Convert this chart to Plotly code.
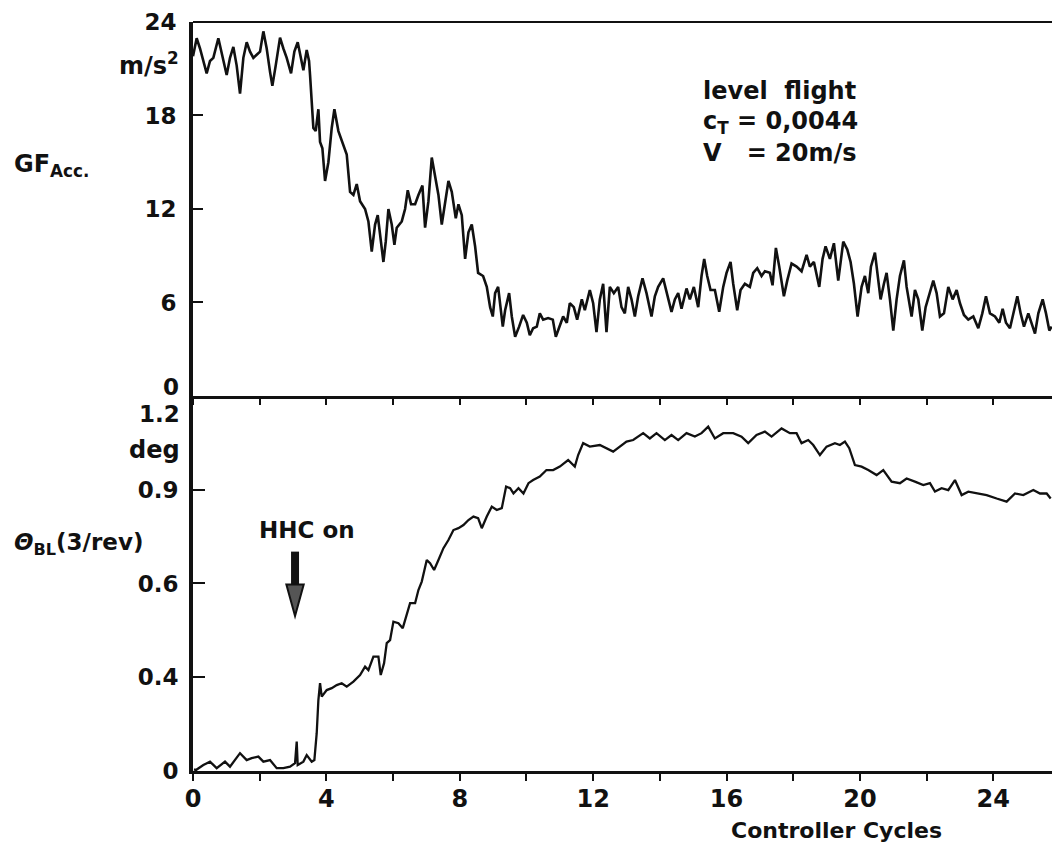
import plotly.graph_objects as go

# ---------------- data ----------------
# Upper panel: GF_Acc. [m/s^2] versus controller cycles
gf_x_a = [0.0, 0.11, 0.21, 0.41, 0.51, 0.61, 0.76, 0.91, 1.01, 1.11, 1.21, 1.31, 1.41, 1.51, 1.61, 1.71,
          1.81, 1.91, 2.01, 2.11, 2.21, 2.31, 2.38, 2.48, 2.61, 2.71, 2.81, 2.94, 3.04, 3.14, 3.24, 3.31,
          3.41, 3.48, 3.51, 3.56, 3.61, 3.68, 3.76, 3.81, 3.88, 3.96, 4.06, 4.16, 4.24, 4.36, 4.51, 4.61,
          4.71, 4.81, 4.91, 5.01, 5.16, 5.26, 5.36, 5.46, 5.54, 5.61, 5.71, 5.78, 5.86, 5.96, 6.04, 6.11,
          6.26, 6.36, 6.44, 6.54, 6.66, 6.76, 6.88, 6.96, 7.06, 7.16, 7.26, 7.36, 7.46, 7.56, 7.66, 7.76,
          7.88, 7.96, 8.06, 8.16, 8.26]
gf_y_a = [21.8, 22.96, 22.3, 20.7, 21.5, 21.7, 22.96, 21.5, 20.6, 21.7, 22.4, 21.2, 19.4, 21.7, 22.7, 22.1,
          21.7, 21.9, 22.1, 23.4, 22.3, 20.8, 19.9, 21.2, 23.0, 22.3, 21.7, 20.7, 22.1, 22.7, 21.7, 20.9,
          22.2, 21.5, 20.6, 18.9, 17.2, 17.0, 18.4, 16.3, 15.9, 13.8, 15.0, 17.2, 18.4, 17.0, 16.1, 15.5,
          13.1, 12.9, 13.6, 12.5, 12.0, 11.2, 9.26, 11.0, 11.6, 10.3, 8.6, 9.9, 12.0, 11.0, 9.7, 10.8,
          11.2, 12.0, 13.2, 12.3, 12.3, 12.9, 13.5, 10.8, 12.5, 15.3, 14.0, 12.9, 11.0, 12.5, 13.8, 13.1,
          11.4, 12.3, 11.6, 8.8, 10.5]
gf_x_b = [8.36, 8.46, 8.55, 8.70, 8.81, 8.91, 8.99, 9.06, 9.15, 9.29, 9.36, 9.48, 9.56, 9.66, 9.78, 9.90,
          10.01, 10.10, 10.20, 10.31, 10.40, 10.50, 10.65, 10.79, 10.88, 10.98, 11.10, 11.21, 11.30, 11.42,
          11.52, 11.66, 11.75, 11.90, 12.00, 12.10, 12.20, 12.30, 12.40, 12.50, 12.62, 12.75, 12.85, 12.95,
          13.05, 13.15, 13.25, 13.35, 13.48, 13.60, 13.75, 13.85, 13.95, 14.10, 14.22, 14.35, 14.45, 14.55,
          14.65, 14.80, 14.90, 15.02, 15.15, 15.25, 15.33, 15.42, 15.52, 15.65, 15.78, 15.90, 16.00, 16.12,
          16.20, 16.32, 16.42, 16.55, 16.70, 16.80, 16.92, 17.05]
gf_y_b = [11.0, 9.6, 7.9, 7.7, 7.0, 5.7, 5.1, 6.6, 7.0, 4.45, 5.5, 6.6, 5.1, 3.8, 4.45, 5.2,
          4.7, 3.9, 4.35, 4.45, 5.3, 4.9, 5.0, 4.9, 3.8, 4.45, 5.1, 4.7, 5.95, 5.7,
          4.9, 6.2, 5.5, 6.8, 5.95, 4.1, 6.2, 7.2, 4.1, 7.0, 6.6, 7.0, 5.7, 5.3,
          7.0, 6.2, 5.1, 6.4, 7.55, 6.6, 5.1, 6.4, 7.0, 7.55, 6.6, 5.4, 6.2, 6.6,
          5.6, 6.9, 6.2, 7.0, 5.7, 7.7, 8.8, 7.7, 6.8, 6.8, 5.4, 7.0, 7.9, 8.6,
          7.2, 5.5, 6.8, 7.2, 7.0, 7.9, 8.2, 7.7]
gf_x_c = [17.15, 17.30, 17.38, 17.48, 17.58, 17.72, 17.82, 17.95, 18.10, 18.25, 18.40, 18.50, 18.62,
          18.78, 18.88, 18.97, 19.10, 19.22, 19.35, 19.50, 19.62, 19.72, 19.82, 19.93, 20.05, 20.15,
          20.25, 20.33, 20.45, 20.55, 20.62, 20.72, 20.80, 20.90, 21.00, 21.10, 21.20, 21.32, 21.40,
          21.55, 21.65, 21.75, 21.87, 21.97, 22.10, 22.20, 22.30, 22.40, 22.52, 22.65, 22.78, 22.90,
          23.00, 23.12, 23.25, 23.40, 23.55, 23.67, 23.78, 23.90, 24.05, 24.18, 24.28, 24.38, 24.50,
          24.60, 24.72, 24.82, 24.92, 25.05, 25.15, 25.25, 25.35, 25.48, 25.58, 25.68, 25.75]
gf_y_c = [8.0, 7.9, 7.1, 9.5, 8.3, 6.4, 7.4, 8.5, 8.3, 8.0, 9.05, 8.3, 8.6,
          7.0, 8.8, 9.6, 8.8, 9.8, 7.4, 9.9, 9.4, 8.6, 7.2, 5.1, 7.0, 7.7,
          6.6, 8.3, 9.2, 7.4, 6.2, 7.2, 7.9, 6.2, 4.2, 6.2, 7.7, 8.7, 7.0,
          5.1, 6.8, 6.2, 4.2, 5.7, 6.6, 7.4, 6.6, 5.1, 5.3, 7.0, 6.2, 6.8,
          5.95, 5.2, 4.9, 5.1, 4.35, 5.3, 6.4, 5.3, 5.1, 4.7, 5.6, 4.7, 4.35,
          5.3, 6.4, 5.3, 4.45, 5.3, 4.7, 4.0, 5.3, 6.2, 5.3, 4.2, 4.45]

# Lower panel: Theta_BL (3/rev) [deg], in the (linear) units of the printed axis
th_x = [0.03, 0.09, 0.31, 0.51, 0.71, 0.96, 1.11, 1.41, 1.61, 1.76, 1.96, 2.11, 2.31, 2.51, 2.71, 2.91,
        3.06, 3.11, 3.14, 3.31, 3.41, 3.56, 3.64, 3.71, 3.76, 3.81, 3.86, 4.01, 4.16, 4.31, 4.46, 4.61,
        4.81, 5.01, 5.16, 5.26, 5.41, 5.56, 5.63, 5.73, 5.81, 5.91, 6.01, 6.16, 6.29, 6.41, 6.51, 6.66,
        6.76, 6.86, 7.01, 7.11, 7.23, 7.36, 7.51, 7.66, 7.81, 7.96, 8.11, 8.26, 8.41, 8.55, 8.66, 8.81,
        8.96, 9.11, 9.26, 9.39, 9.51, 9.61, 9.76, 9.91, 10.06, 10.2, 10.4, 10.6, 10.8, 11.0, 11.25, 11.45,
        11.55, 11.7, 11.9, 12.2, 12.4, 12.6, 13.0, 13.2, 13.5, 13.7, 13.9, 14.15, 14.35, 14.55, 14.8,
        15.05, 15.25, 15.45, 15.65, 15.9, 16.2, 16.45, 16.65, 16.9, 17.15, 17.35, 17.65, 17.9, 18.1,
        18.25, 18.45, 18.6, 18.8, 19.0, 19.25, 19.4, 19.55, 19.68, 19.85, 20.05, 20.25, 20.5, 20.7,
        20.95, 21.2, 21.4, 21.65, 21.9, 22.1, 22.25, 22.45, 22.65, 22.85, 23.05, 23.25, 23.5, 23.8,
        24.1, 24.4, 24.65, 24.9, 25.2, 25.4, 25.6, 25.72]
th_y = [0.005, 0.003, 0.019, 0.030, 0.009, 0.030, 0.014, 0.057, 0.035, 0.041, 0.046, 0.030, 0.035, 0.009,
        0.009, 0.014, 0.025, 0.094, 0.019, 0.030, 0.051, 0.030, 0.035, 0.121, 0.227, 0.281, 0.238, 0.259,
        0.265, 0.275, 0.281, 0.270, 0.286, 0.307, 0.334, 0.323, 0.366, 0.366, 0.307, 0.345, 0.409, 0.419,
        0.478, 0.473, 0.457, 0.505, 0.537, 0.537, 0.579, 0.606, 0.675, 0.665, 0.643, 0.675, 0.713, 0.739,
        0.771, 0.777, 0.787, 0.803, 0.814, 0.809, 0.777, 0.814, 0.846, 0.835, 0.841, 0.910, 0.905, 0.888,
        0.905, 0.888, 0.921, 0.931, 0.942, 0.963, 0.963, 0.974, 0.995, 0.974, 1.011, 1.049, 1.038, 1.043,
        1.033, 1.022, 1.054, 1.059, 1.081, 1.064, 1.081, 1.059, 1.075, 1.059, 1.081, 1.070, 1.081, 1.102,
        1.064, 1.081, 1.081, 1.070, 1.049, 1.075, 1.086, 1.070, 1.096, 1.081, 1.081, 1.049, 1.059, 1.043,
        1.011, 1.038, 1.049, 1.043, 1.054, 1.033, 0.979, 0.974, 0.963, 0.947, 0.963, 0.926, 0.921, 0.936,
        0.926, 0.915, 0.921, 0.894, 0.905, 0.899, 0.931, 0.883, 0.894, 0.888, 0.883, 0.872, 0.862, 0.888,
        0.883, 0.899, 0.888, 0.888, 0.872]

gf_x = gf_x_a + gf_x_b + gf_x_c
gf_y = gf_y_a + gf_y_b + gf_y_c
assert len(gf_x) == len(gf_y), (len(gf_x), len(gf_y))
assert len(th_x) == len(th_y), (len(th_x), len(th_y))

# axis ticks / labels
x_range = [0, 25.76]
x_tickvals = [0, 4, 8, 12, 16, 20, 24]
x_ticktext = ["0", "4", "8", "12", "16", "20", "24"]
x_minorvals = [2, 6, 10, 14, 18, 22]
gf_tickvals = [6, 12, 18, 24]
gf_ticktext = ["6", "12", "18", "24"]
th_tickvals = [0, 0.3, 0.6, 0.9]
th_ticktext = ["0", "0.4", "0.6", "0.9"]
hhc_on_cycle = 3.06

# ---------------- figure ----------------
FONT = "DejaVu Sans"
INK = "#111111"
split = 0.5007

def tfont(size):
    return dict(family=FONT, size=size, color=INK, weight="bold")

fig = go.Figure()
fig.add_trace(go.Scatter(x=gf_x, y=gf_y, mode="lines", xaxis="x2", yaxis="y2",
                         line=dict(color=INK, width=2.6), showlegend=False, hoverinfo="skip"))
fig.add_trace(go.Scatter(x=th_x, y=th_y, mode="lines", xaxis="x", yaxis="y",
                         line=dict(color=INK, width=2.3), showlegend=False, hoverinfo="skip"))

def xcommon(direction, length):
    return dict(range=x_range, tickvals=x_tickvals, showgrid=False, zeroline=False,
                tickcolor=INK, tickwidth=2, ticks=direction, ticklen=length,
                minor=dict(tickvals=x_minorvals, ticks=direction, ticklen=length,
                           tickwidth=2, tickcolor=INK, showgrid=False))

fig.update_layout(
    width=1052, height=847,
    margin=dict(l=193, r=0, t=22, b=76),
    paper_bgcolor="white", plot_bgcolor="white",
    xaxis=dict(**xcommon("outside", 7), anchor="y", domain=[0, 1], ticktext=x_ticktext,
               showline=True, linewidth=3, linecolor=INK, tickfont=tfont(24),
               ticklabelstandoff=-3),
    xaxis3=dict(**xcommon("inside", 7), anchor="y", overlaying="x",
                showticklabels=False, showline=False),
    xaxis2=dict(**xcommon("outside", 6), anchor="y2", domain=[0, 1],
                showticklabels=False, showline=True, linewidth=3, linecolor=INK),
    xaxis4=dict(**xcommon("inside", 6), anchor="y2", overlaying="x2",
                showticklabels=False, showline=False),
    yaxis=dict(domain=[0, split], range=[0, 1.2], tickvals=th_tickvals, ticktext=th_ticktext,
               ticks="inside", ticklen=12, tickwidth=2, tickcolor=INK, showline=True, linewidth=4,
               linecolor=INK, showgrid=False, zeroline=False, tickfont=tfont(23),
               ticklabelstandoff=6),
    yaxis2=dict(domain=[split, 1], range=[0, 24], tickvals=gf_tickvals, ticktext=gf_ticktext,
                ticks="inside", ticklen=10, tickwidth=2, tickcolor=INK, showline=True, linewidth=4,
                linecolor=INK, showgrid=False, zeroline=False, tickfont=tfont(23),
                ticklabelstandoff=8),
)

W, H = 859.0, 749.0   # plot area in pixels
def px(xpix):
    return (xpix - 193) / W
def py(ypix):
    return (771 - ypix) / H

ann = []
def add(text, x, y, size, xanchor="left", yanchor="middle"):
    ann.append(dict(text=text, x=x, y=y, xref="paper", yref="paper", showarrow=False,
                    xanchor=xanchor, yanchor=yanchor, font=tfont(size), align="left"))

add("GF<sub>Acc.</sub>", px(12), py(166), 24)
add("m/s<sup>2</sup>", px(181), py(64), 24, xanchor="right")
add("0", px(181), py(387), 23, xanchor="right")
add("1.2", px(182), py(414), 23, xanchor="right")
add("deg", px(182), py(450), 24, xanchor="right")
add("<i>\u0398</i><sub>BL</sub>(3/rev)", px(12), py(544), 23)
add("HHC on", px(307), py(530), 23, xanchor="center")
add("level\u00a0\u00a0flight", px(701), py(91), 24)
add("c<sub>T</sub>\u00a0= 0,0044", px(701), py(122), 24)
add("V\u00a0\u00a0\u00a0= 20m/s", px(701), py(153), 24)
add("Controller Cycles", px(836), py(830), 22, xanchor="center")
fig.update_layout(annotations=ann)

# top frame line and the "HHC on" arrow
shapes = [
    dict(type="line", xref="paper", yref="paper", x0=0, x1=1, y0=1, y1=1,
         line=dict(color=INK, width=2)),
    dict(type="rect", xref="x", yref="y", x0=hhc_on_cycle - 0.12, x1=hhc_on_cycle + 0.12,
         y0=0.595, y1=0.702, fillcolor=INK, line=dict(width=0)),
    dict(type="path", xref="x", yref="y",
         path=f"M {hhc_on_cycle - 0.26},0.597 L {hhc_on_cycle + 0.26},0.597 L {hhc_on_cycle},0.496 Z",
         fillcolor="#555555", line=dict(color=INK, width=2)),
]
fig.update_layout(shapes=shapes)

fig.write_html("out.html")
